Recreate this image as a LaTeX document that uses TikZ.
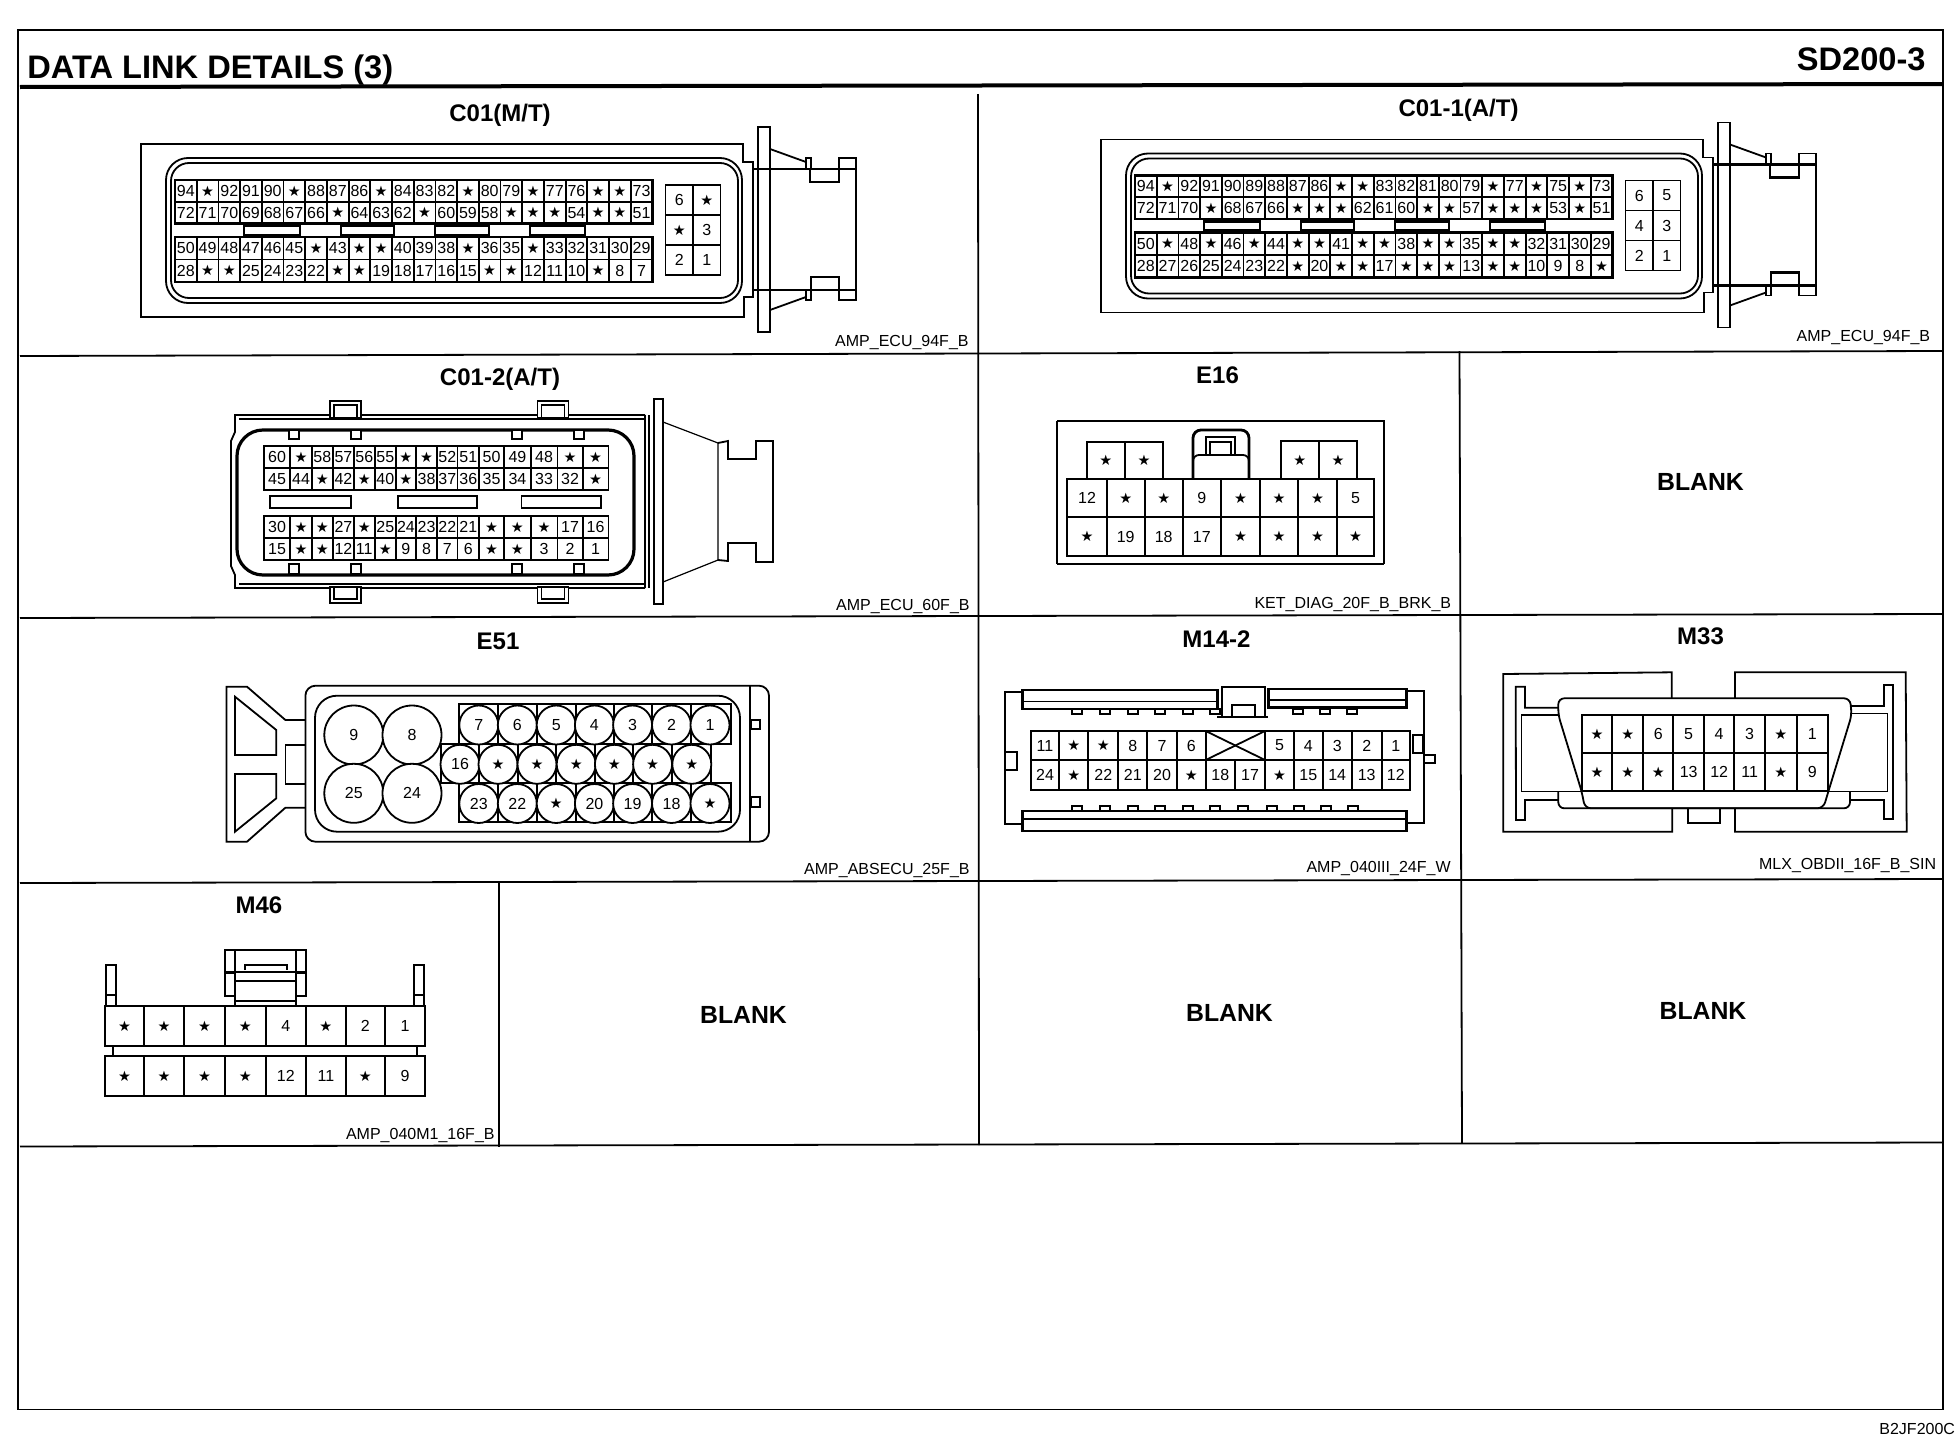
\documentclass[tikz,border=0pt]{standalone}
\usepackage{fontspec}
\setmainfont{Liberation Sans}
\newfontfamily\symfont{DejaVu Sans}
\def\X{{\symfont\fontsize{7.2}{7.5}\selectfont ★}}
\tikzset{
  ln/.style={line width=0.9pt,black},
  thk/.style={line width=1.4pt,black},
  fin/.style={line width=0.6pt,black},
  celltxt/.style={inner sep=0pt,font=\fontsize{8}{9}\selectfont},
  heading/.style={inner sep=0pt,font=\fontsize{12}{14}\bfseries\selectfont},
  blanktxt/.style={inner sep=0pt,font=\fontsize{12.4}{14}\bfseries\selectfont},
  partno/.style={inner sep=0pt,anchor=east,font=\fontsize{8}{9}\selectfont},
  bigtitle/.style={inner sep=0pt,font=\fontsize{16.3}{18}\bfseries\selectfont},
  pinbig/.style={circle,draw,line width=0.9pt,fill=white,inner sep=0pt,minimum size=29.5pt,font=\fontsize{8}{9}\selectfont},
  pinsmall/.style={circle,draw,line width=0.9pt,fill=white,inner sep=0pt,minimum size=19.5pt,font=\fontsize{8}{9}\selectfont},
}
% uniform row: x0, cell width, y0, y1, labels
\newcommand\urow[5]{%
  \foreach \lab [count=\i from 0] in {#5}{%
    \pgfmathsetmacro\xa{#1+\i*#2}%
    \pgfmathsetmacro\xb{#1+(\i+1)*#2}%
    \draw[ln] (\xa,#3) rectangle (\xb,#4);
    \node[celltxt] at ({(\xa+\xb)/2},{(#3+#4)/2}) {\lab};
  }%
}
% variable row: x0, y0, y1, right/label pairs
\newcommand\vrow[4]{%
  \foreach \xb/\lab [remember=\xb as \xa (initially #1)] in {#4}{%
    \draw[ln] (\xa,#2) rectangle (\xb,#3);
    \node[celltxt] at ({(\xa+\xb)/2},{(#2+#3)/2}) {\lab};
  }%
}
% shell of the 94-pin ECU connector, in C01 coordinates
\newcommand\ecushell{%
  \draw[ln] (743,144) -- (141,144) -- (141,317) -- (744,317) -- (744,297) -- (753,297) -- (753,162) -- (743,162) -- cycle;
  \draw[ln,rounded corners=11pt] (166,158) rectangle (742,303);
  \draw[ln,rounded corners=9pt] (171,163) rectangle (738,298);
  \draw[ln] (758,127) rectangle (770,332);
  \draw[ln] (770,149) -- (806,162);
  \draw[ln] (770,310) -- (806,297);
  \draw[ln] (806,169) -- (806,158) -- (811,158) -- (811,169);
  \draw[ln] (806,290) -- (806,300) -- (811,300) -- (811,290);
  \draw[thk] (753,169) -- (856,169);
  \draw[thk] (753,290) -- (856,290);
  \draw[thk] (810,169) -- (810,182) -- (839,182) -- (839,169);
  \draw[thk] (811,290) -- (811,277) -- (839,277) -- (839,290);
  \draw[ln] (839,169) -- (839,158) -- (856,158) -- (856,300) -- (839,300) -- (839,290);
  \draw[thk,fill=white] (244,226) rectangle (300,235);
  \draw[thk,fill=white] (341,226) rectangle (394,235);
  \draw[thk,fill=white] (435,226) rectangle (489,235);
  \draw[thk,fill=white] (530,226) rectangle (585,235);
  \draw[thk] (175,180) rectangle (652.5,223.5);
  \draw[thk] (175,237) rectangle (652.5,282);
}
\begin{document}
\begin{tikzpicture}[x=0.5pt,y=-0.5pt]
\useasboundingbox (0,0) rectangle (1956,1456);
\fill[white] (0,0) rectangle (1956,1456);
% frame
\draw[ln] (18,30) rectangle (1943,1409.5);
\draw[line width=2pt] (20,87) -- (1943,84);
\draw[ln] (20,356) -- (1943,351);
\draw[ln] (20,618) -- (1943,614);
\draw[ln] (20,883) -- (1943,879);
\draw[ln] (20,1146.5) -- (1943,1142.5);
\draw[ln] (978,94) -- (979,1145);
\draw[ln] (1459.5,351) -- (1462,1143);
\draw[ln] (499,883) -- (499,1146.5);
\node[bigtitle,anchor=west] at (27,70) {DATA LINK DETAILS (3)};
\node[bigtitle,anchor=east] at (1926,59) {SD200-3};
\node[partno,anchor=west] at (1879,1429) {B2JF200C};
% headings
\node[heading] at (500,115) {C01(M/T)};
\node[heading] at (1458.5,110) {C01-1(A/T)};
\node[heading] at (500,379) {C01-2(A/T)};
\node[heading] at (1217.5,375) {E16};
\node[heading] at (498,641) {E51};
\node[heading] at (1216.5,639) {M14-2};
\node[heading] at (1700.5,636) {M33};
\node[heading] at (259,905) {M46};
\node[blanktxt] at (1700.5,482) {BLANK};
\node[blanktxt] at (743.5,1015) {BLANK};
\node[blanktxt] at (1229.5,1013) {BLANK};
\node[blanktxt] at (1703,1011) {BLANK};
\node[partno] at (969,343) {AMP\_ECU\_94F\_B};
\node[partno] at (1930.5,338) {AMP\_ECU\_94F\_B};
\node[partno] at (970,606) {AMP\_ECU\_60F\_B};
\node[partno] at (1451.5,604) {KET\_DIAG\_20F\_B\_BRK\_B};
\node[partno] at (970,870) {AMP\_ABSECU\_25F\_B};
\node[partno] at (1451,868) {AMP\_040III\_24F\_W};
\node[partno] at (1936.5,865) {MLX\_OBDII\_16F\_B\_SIN};
\node[partno] at (495,1135) {AMP\_040M1\_16F\_B};
% C01(M/T)
\ecushell
\urow{175}{21.7}{180}{201.7}{94,\X,92,91,90,\X,88,87,86,\X,84,83,82,\X,80,79,\X,77,76,\X,\X,73}
\urow{175}{21.7}{201.7}{223.5}{72,71,70,69,68,67,66,\X,64,63,62,\X,60,59,58,\X,\X,\X,54,\X,\X,51}
\urow{175}{21.7}{237}{259.5}{50,49,48,47,46,45,\X,43,\X,\X,40,39,38,\X,36,35,\X,33,32,31,30,29}
\urow{175}{21.7}{259.5}{282}{28,\X,\X,25,24,23,22,\X,\X,19,18,17,16,15,\X,\X,12,11,10,\X,8,7}
\urow{665.5}{27.5}{185}{215}{6,\X}
\urow{665.5}{27.5}{215}{245}{\X,3}
\urow{665.5}{27.5}{245}{275}{2,1}
% C01-1(A/T)
\begin{scope}[shift={(960,-4.5)}]
\ecushell
\urow{175}{21.7}{180}{201.7}{94,\X,92,91,90,89,88,87,86,\X,\X,83,82,81,80,79,\X,77,\X,75,\X,73}
\urow{175}{21.7}{201.7}{223.5}{72,71,70,\X,68,67,66,\X,\X,\X,62,61,60,\X,\X,57,\X,\X,\X,53,\X,51}
\urow{175}{21.7}{237}{259.5}{50,\X,48,\X,46,\X,44,\X,\X,41,\X,\X,38,\X,\X,35,\X,\X,32,31,30,29}
\urow{175}{21.7}{259.5}{282}{28,27,26,25,24,23,22,\X,20,\X,\X,17,\X,\X,\X,13,\X,\X,10,9,8,\X}
\urow{665.5}{27.5}{185}{215}{6,5}
\urow{665.5}{27.5}{215}{245}{4,3}
\urow{665.5}{27.5}{245}{275}{2,1}
\end{scope}
% C01-2(A/T)
\draw[ln] (645,415) -- (235,415) -- (235,432) -- (231,441) -- (231,566) -- (235,575) -- (235,588) -- (645,588);
\draw[fin] (239,419) -- (645,419);
\draw[fin] (239,584) -- (645,584);
\draw[ln] (645,415) -- (645,588);
\draw[ln] (649,415) -- (649,588);
\draw[line width=1.6pt,rounded corners=13pt] (237,430) rectangle (634,575);
\foreach \tx in {330,537.5}{
  \draw[ln,fill=white] (\tx,401) rectangle ++(31,17);
  \draw[ln,fill=white] (\tx+4,405) rectangle ++(23,13);
  \draw[ln,fill=white] (\tx,587) rectangle ++(31,16);
  \draw[ln,fill=white] (\tx+4,587) rectangle ++(23,12);
}
\foreach \tx in {289,351,512,574}{
  \draw[ln,fill=white] (\tx,430) rectangle ++(10,9);
  \draw[ln,fill=white] (\tx,564) rectangle ++(10,10);
}
\draw[ln] (654,399) rectangle (663,604);
\draw[fin] (663,422) -- (718,443) -- (718,560) -- (663,582);
\draw[ln] (718,443) -- (728,441) -- (728,459) -- (756,459) -- (756,441) -- (773,441) -- (773,562) -- (756,562) -- (756,543) -- (728,543) -- (728,561) -- (718,560);
\draw[ln] (270,496) rectangle (351,508);
\draw[ln] (398,496) rectangle (477,508);
\draw[ln] (521.5,496) rectangle (601,508);
\vrow{263.7}{445.7}{468.3}{290.3/60,311.8/\X,332.9/58,353.9/57,374.7/56,395.8/55,416/\X,437.2/\X,457.5/52,479/51,504/50,530.8/49,557.4/48,582.6/\X,608.5/\X}
\vrow{263.7}{468.3}{490}{290.3/45,311.8/44,332.9/\X,353.9/42,374.7/\X,395.8/40,416/\X,437.2/38,457.5/37,479/36,504/35,530.8/34,557.4/33,582.6/32,608.5/\X}
\vrow{263.7}{515.7}{538.3}{290.3/30,311.8/\X,332.9/\X,353.9/27,374.7/\X,395.8/25,416/24,437.2/23,457.5/22,479/21,504/\X,530.8/\X,557.4/\X,582.6/17,608.5/16}
\vrow{263.7}{538.3}{560}{290.3/15,311.8/\X,332.9/\X,353.9/12,374.7/11,395.8/\X,416/9,437.2/8,457.5/7,479/6,504/\X,530.8/\X,557.4/3,582.6/2,608.5/1}
% E16
\draw[ln] (1057,421) -- (1384,421) -- (1384,564);
\draw[ln] (1057,421) -- (1057,564);
\draw[thk] (1057,564) -- (1384,564);
\vrow{1086.7}{441.7}{479}{1125/\X,1163.3/\X}
\vrow{1280.7}{441}{479}{1318.7/\X,1357.3/\X}
\draw[thk,rounded corners=4pt] (1193,479) -- (1193,430) -- (1249,430) -- (1249,479);
\draw[ln,rounded corners=3pt] (1193,479) -- (1193,455) -- (1249,455) -- (1249,479);
\draw[ln] (1205.7,455) -- (1205.7,436.7) -- (1235,436.7) -- (1235,455);
\draw[fin] (1210,455) -- (1210,442) -- (1231,442) -- (1231,455);
\vrow{1067.3}{479}{517.3}{1106.7/12,1144.7/\X,1182.7/\X,1221/9,1260/\X,1298.3/\X,1336.7/\X,1374.3/5}
\vrow{1067.3}{517.3}{555.7}{1106.7/\X,1144.7/19,1182.7/18,1221/17,1260/\X,1298.3/\X,1336.7/\X,1374.3/\X}
% E51
\draw[ln,rounded corners=5pt] (305.4,685.7) rectangle (769,841.7);
\draw[ln] (750,685.7) -- (750,841.7);
\draw[ln,rounded corners=11pt] (315,695.7) rectangle (740,831.7);
\draw[ln] (305.4,720) -- (285.4,720) -- (247,686.7) -- (226.5,686.7) -- (226.5,841.7) -- (247,841.7) -- (285.4,807.7) -- (305.4,807.7);
\draw[ln] (235,696.7) -- (276.3,730) -- (276.3,755) -- (235,755) -- cycle;
\draw[ln] (235,774) -- (276.3,774) -- (276.3,798.3) -- (235,831.7) -- cycle;
\draw[ln] (305.4,745) -- (285.4,745) -- (285.4,784) -- (305.4,784);
\draw[ln] (751.5,720) rectangle (760,729.3);
\draw[ln] (751.5,797.3) rectangle (760,806.7);
\draw[ln] (459,704.3) rectangle (730.7,744);
\draw[ln] (459,783.3) rectangle (730.7,822.3);
\draw[ln] (441,744) rectangle (711,783.3);
\foreach \x in {498,537,576,614,652,691}{
  \draw[fin] (\x,704.3) -- (\x,744);
  \draw[fin] (\x,783.3) -- (\x,822.3);
}
\foreach \x in {479,518,556,595,633,672}{
  \draw[fin] (\x,744) -- (\x,783.3);
}
\node[pinbig] at (353.8,735) {9};
\node[pinbig] at (412,735) {8};
\node[pinbig] at (353.8,793.3) {25};
\node[pinbig] at (412,793.3) {24};
\foreach \x/\lab in {478.8/7,517.3/6,556.2/5,594.4/4,632.6/3,671.5/2,710/1}{
  \node[pinsmall] at (\x,725) {\lab};
}
\foreach \x/\lab in {460/16,498/\X,537/\X,576.2/\X,614.4/\X,652.6/\X,691.8/\X}{
  \node[pinsmall] at (\x,764.3) {\lab};
}
\foreach \x/\lab in {478.8/23,517.3/22,556.2/\X,594.4/20,632.6/19,671.5/18,710/\X}{
  \node[pinsmall] at (\x,803.5) {\lab};
}
% M14-2
\draw[ln] (1022.7,692) -- (1005,692) -- (1005,824) -- (1022.7,824);
\draw[ln] (1406.7,691) -- (1424,691) -- (1424,823) -- (1406.7,823);
\draw[thk] (1022.7,690) rectangle (1217.3,709);
\draw[fin] (1022.7,701.7) -- (1217.3,701.7);
\draw[thk] (1268.3,689) rectangle (1406.7,707.3);
\draw[fin] (1268.3,700) -- (1406.7,700);
\draw[ln,fill=white] (1221.7,716.7) -- (1221.7,686.7) -- (1265,686.7) -- (1265,716.7);
\draw[ln] (1231.7,716.7) -- (1231.7,705) -- (1255,705) -- (1255,716.7);
\draw[ln] (1217.3,717) -- (1268.3,717);
\foreach \x in {1076.7,1105,1132.7,1160,1188.3,1215,1298.3,1325,1352.3}{
  \draw[ln] (\x-5,709) rectangle (\x+5,714);
}
\foreach \x in {1076.7,1105,1132.7,1160,1188.3,1215,1243.3,1271.7,1299,1325.7,1353.3}{
  \draw[ln] (\x-5,806) rectangle (\x+5,811);
}
\draw[thk] (1022.7,811) rectangle (1406.7,831);
\draw[fin] (1022.7,819) -- (1406.7,819);
\draw[ln] (1005,752.3) rectangle (1016.7,770);
\draw[ln] (1412.7,735) rectangle (1423.3,753.3);
\draw[ln] (1424,755) rectangle (1435,763.3);
\vrow{1030.7}{731}{760}{1059.3/11,1088.3/\X,1118.3/\X,1147.3/8,1176.7/7,1205.7/6,1265/{},1294/5,1322.7/4,1351.7/3,1381.7/2,1410/1}
\draw[ln] (1205.7,731) -- (1265,760);
\draw[ln] (1265,731) -- (1205.7,760);
\vrow{1030.7}{760}{790}{1059.3/24,1088.3/\X,1118.3/22,1147.3/21,1176.7/20,1205.7/\X,1235/18,1265/17,1294/\X,1322.7/15,1351.7/14,1381.7/13,1410/12}
% M33
\draw[ln] (1671.7,698) -- (1671.7,672.3) -- (1503.3,674) -- (1503.3,831.7) -- (1672.3,831.7) -- (1672.3,808);
\draw[ln] (1735,698) -- (1735,672.3) -- (1905.7,672.3) -- (1906.7,831.7) -- (1735,831.7) -- (1735,808);
\draw[ln] (1558.3,707.7) -- (1525,707.7) -- (1525,686.7) -- (1515.7,686.7) -- (1516,820) -- (1525,820) -- (1525,800) -- (1558.3,800);
\draw[fin] (1558.3,715) -- (1521.7,715) -- (1521.7,791.7) -- (1581.7,791.7);
\draw[ln] (1850,705.7) -- (1884,705.7) -- (1884,685) -- (1893.3,685) -- (1893.3,819) -- (1884,819) -- (1884,800) -- (1850,800);
\draw[fin] (1851.7,713.3) -- (1887.7,713.3) -- (1887.7,791.7) -- (1827.7,791.7);
\draw[ln,rounded corners=3pt,fill=white] (1558.3,715) -- (1558.3,698.3) -- (1850,698.3) -- (1851.7,715) -- (1828.3,791.7) -- (1823.3,808.3) -- (1585,808.3) -- (1581.7,791.7) -- cycle;
\draw[ln,rounded corners=3pt] (1558.3,791.7) -- (1558.3,808.3) -- (1850,808.3) -- (1850,791.7);
\draw[ln] (1687.7,808.3) -- (1687.7,823.3) -- (1720,823.3) -- (1720,808.3);
\vrow{1581.7}{715}{753.3}{1612.3/\X,1643.3/\X,1673.3/6,1704/5,1734.3/4,1765/3,1796.7/\X,1827.7/1}
\vrow{1581.7}{753.3}{791}{1612.3/\X,1643.3/\X,1673.3/\X,1704/13,1734.3/12,1765/11,1796.7/\X,1827.7/9}
% M46
\draw[ln] (105.7,1005.7) -- (105.7,965) -- (116,965) -- (116,1005.7);
\draw[thk] (105.7,995) -- (116,995);
\draw[ln] (414,1005.7) -- (414,965) -- (424.3,965) -- (424.3,1005.7);
\draw[thk] (414,995) -- (424.3,995);
\draw[ln] (225,950) rectangle (306,971.7);
\draw[ln] (235,950) -- (235,971.7);
\draw[ln] (296,950) -- (296,971.7);
\draw[ln] (245,970) -- (245,965) -- (286.7,965) -- (286.7,970);
\draw[ln] (225,973) rectangle (235,996);
\draw[ln] (296,973) rectangle (306,996);
\draw[ln] (235,980.7) -- (296,980.7);
\draw[ln] (235,1001) -- (296,1001);
\draw[ln] (235,996) -- (235,1005.7);
\draw[ln] (296,996) -- (296,1005.7);
\draw[ln] (112.7,1046) -- (112.7,1056);
\draw[ln] (417.3,1046) -- (417.3,1056);
\vrow{105}{1005.7}{1046}{144/\X,184.3/\X,225/\X,265.7/\X,306/4,345.7/\X,385/2,425/1}
\vrow{105}{1056}{1095.7}{144/\X,184.3/\X,225/\X,265.7/\X,306/12,345.7/11,385/\X,425/9}
\end{tikzpicture}
\end{document}
